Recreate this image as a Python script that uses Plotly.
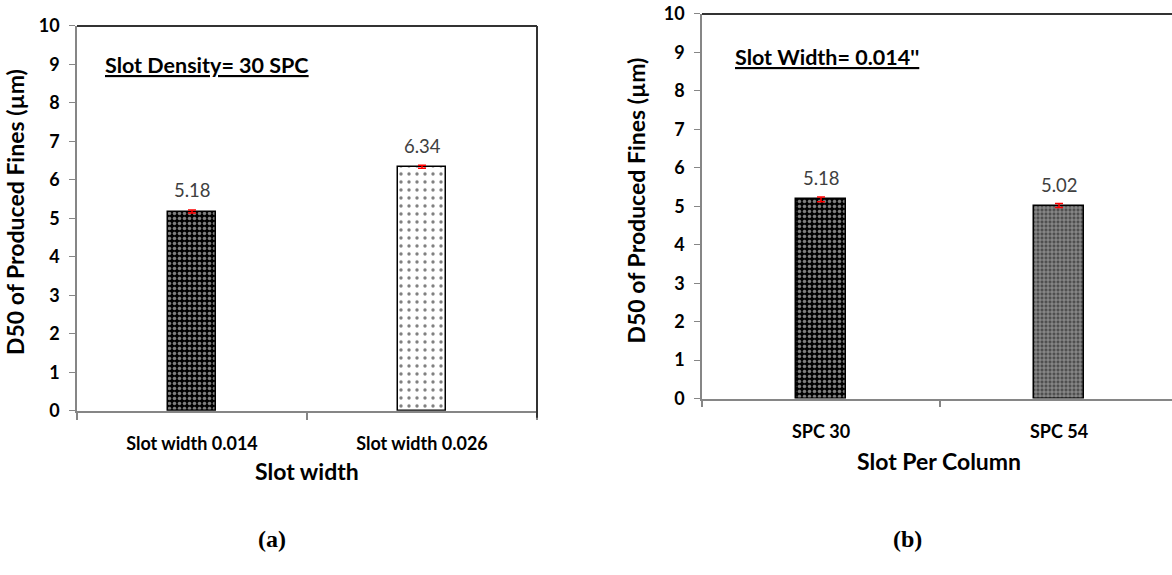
import plotly.graph_objects as go

W, H = 1172, 575

# ---- data ----
width_labels = ["Slot width 0.014", "Slot width 0.026"]
width_d50 = [5.18, 6.34]
width_err = [0.04, 0.04]

spc_labels = ["SPC 30", "SPC 54"]
spc_d50 = [5.18, 5.02]
spc_err = [0.06, 0.05]

y_ticks = list(range(0, 11))

FONT = "Lato"
AXIS_GRAY = "#868686"
FRAME = "#333333"


def px_x(px):
    return px / W


def px_y(py):
    return 1 - py / H


fig = go.Figure()

# bar fill patterns
pat_dark = dict(shape=".", bgcolor="black", fgcolor="white", size=5, solidity=0.4)
pat_light = dict(shape=".", bgcolor="white", fgcolor="black", size=8, solidity=0.14)
pat_grey = dict(shape="+", bgcolor="#4e4e4e", fgcolor="white", size=4, solidity=0.35)

err_style = dict(type="data", visible=True, color="red", thickness=1.5, width=4)
val_font = dict(family=FONT, size=18.5, color="#404040")

# panel (a): slot width
for i, (lab, val, err, pat) in enumerate(zip(width_labels, width_d50, width_err, [pat_dark, pat_light])):
    fig.add_trace(go.Bar(
        x=[i], y=[val], width=0.21,
        marker=dict(color="white", pattern=pat, line=dict(color="black", width=1.5)),
        error_y=dict(array=[err], **err_style),
        xaxis="x", yaxis="y", showlegend=False, hoverinfo="skip",
    ))
    fig.add_annotation(x=i, y=val, xref="x", yref="y", text=f"{val:.2f}", showarrow=False,
                       yshift=21, font=val_font)

# panel (b): slots per column
for i, (lab, val, err, pat) in enumerate(zip(spc_labels, spc_d50, spc_err, [pat_dark, pat_grey])):
    fig.add_trace(go.Bar(
        x=[i], y=[val], width=0.21,
        marker=dict(color="white", pattern=pat, line=dict(color="black", width=1.5)),
        error_y=dict(array=[err], **err_style),
        xaxis="x2", yaxis="y2", showlegend=False, hoverinfo="skip",
    ))
    fig.add_annotation(x=i, y=val, xref="x2", yref="y2", text=f"{val:.2f}", showarrow=False,
                       yshift=21, font=val_font)

yaxis_common = dict(
    range=[0, 10], tickvals=y_ticks, ticks="outside", ticklen=6, tickcolor=AXIS_GRAY,
    showgrid=False, zeroline=False, showline=True, linecolor=AXIS_GRAY, linewidth=1.5,
    tickfont=dict(family=FONT, size=18, color="black", weight="bold"),
    ticklabelstandoff=6,
)
xaxis_common = dict(
    tickmode="array", ticks="", showgrid=False, zeroline=False,
    showline=True, linecolor=AXIS_GRAY, linewidth=1.5,
    tickfont=dict(family=FONT, size=18, color="black", weight="bold"),
    minor=dict(tickmode="array", tickvals=[-0.5, 0.5, 1.5], ticks="outside",
               ticklen=7, tickcolor=AXIS_GRAY, tickwidth=1.5, showgrid=False),
    ticklabelstandoff=16,
)

fig.update_layout(
    width=W, height=H, margin=dict(l=0, r=0, t=0, b=0),
    paper_bgcolor="white", plot_bgcolor="white",
    bargap=0,
    xaxis=dict(domain=[px_x(77), px_x(537)], range=[-0.5, 1.5], anchor="y",
               tickvals=[0, 1], ticktext=width_labels, **xaxis_common),
    yaxis=dict(domain=[px_y(414.7), px_y(14.5)], anchor="x", **yaxis_common),
    xaxis2=dict(domain=[px_x(702), 1.0], range=[-0.5, 1.5 - 6 / 238], anchor="y2",
                tickvals=[0, 1], ticktext=spc_labels, **xaxis_common),
    yaxis2=dict(domain=[px_y(402), px_y(2)], anchor="x2", **yaxis_common),
)

# frame lines on top and right of each plot area
fig.add_shape(type="line", xref="x domain", yref="y domain", x0=0, x1=1, y0=1, y1=1,
              line=dict(color=FRAME, width=2))
fig.add_shape(type="line", xref="x domain", yref="y domain", x0=1, x1=1, y0=-0.018, y1=1,
              line=dict(color=FRAME, width=2))
fig.add_shape(type="line", xref="x2 domain", yref="y2 domain", x0=0, x1=1, y0=1, y1=1,
              line=dict(color=FRAME, width=2))

title_font = dict(family=FONT, size=23, color="black", weight="bold")
note_font = dict(family=FONT, size=21.5, color="black", weight="bold")
panel_font = dict(family="Liberation Serif", size=24, color="black")
ann = [
    dict(x=px_x(15), y=px_y(208), text="D50 of Produced Fines (µm)", textangle=-90, font=title_font),
    dict(x=px_x(636), y=px_y(196), text="D50 of Produced Fines (µm)", textangle=-90, font=title_font),
    dict(x=px_x(307), y=px_y(477), text="Slot width", font=title_font),
    dict(x=px_x(939), y=px_y(467), text="Slot Per Column", font=title_font),
    dict(x=px_x(103), y=px_y(55), text="<u>Slot Density= 30 SPC</u>", xanchor="left", font=note_font),
    dict(x=px_x(733), y=px_y(47), text="<u>Slot Width= 0.014''</u>", xanchor="left", font=note_font),
    dict(x=px_x(272), y=px_y(548), text="<b>(a)</b>", font=panel_font),
    dict(x=px_x(907), y=px_y(548), text="<b>(b)</b>", font=panel_font),
]
for a in ann:
    a.setdefault("xanchor", "center")
    fig.add_annotation(xref="paper", yref="paper", showarrow=False, yanchor="middle", **a)

fig.write_html("out.html")
